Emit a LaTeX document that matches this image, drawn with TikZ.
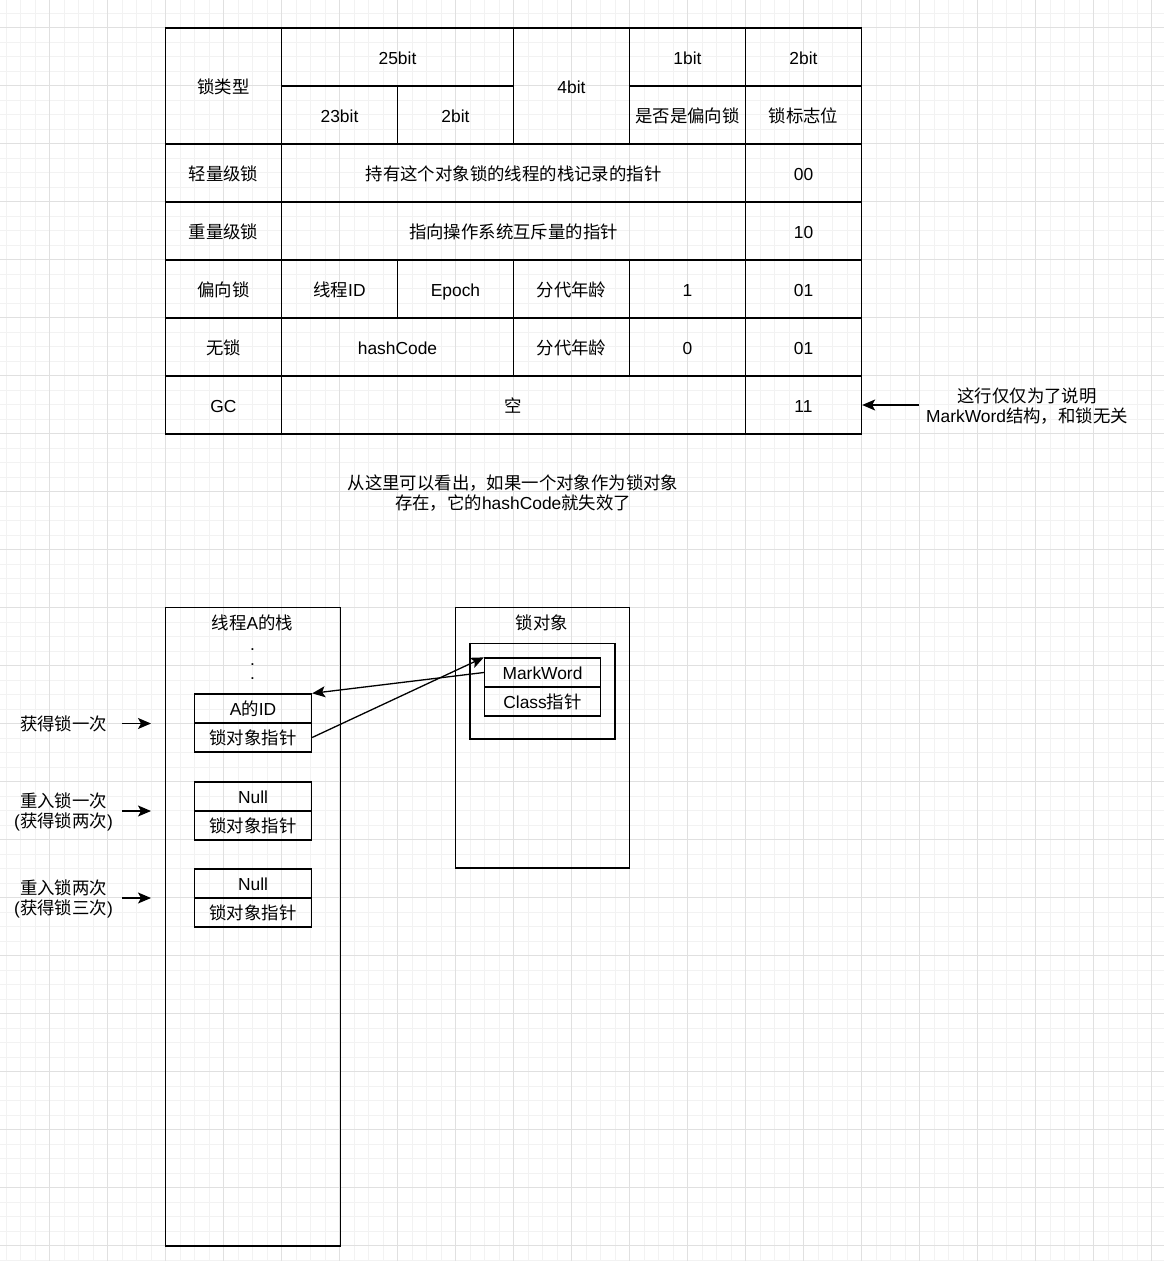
\documentclass[tikz,border=0pt]{standalone}
\usepackage{fontspec}
\setmainfont{Liberation Sans}
\newfontfamily\cjkf{Noto Sans CJK SC}
\newcommand\zh[1]{{\cjkf #1}}
\newcommand\fs{\fontsize{17.4}{20.3}\selectfont}
\usetikzlibrary{arrows.meta}
\definecolor{gridminor}{RGB}{242,242,242}
\definecolor{gridmajor}{RGB}{224,224,224}
\tikzset{
  box/.style={draw=black, line width=1.3pt, inner sep=0pt},
  one/.style={text height=16pt, text depth=2pt},
  cell/.style={box, align=center, font=\fs, one},
  txt/.style={align=center, font=\fs, inner sep=0pt},
  arr/.style={line width=1.3pt, -{Stealth[length=13pt,width=11pt,inset=3pt]}},
  minor/.style={draw=gridminor, line width=0.8pt},
  major/.style={draw=gridmajor, line width=0.8pt},
}
\newcommand\cellat[5]{\node[cell, minimum width=#3pt, minimum height=#4pt] (#1) at (#2) {#5};}
\begin{document}
\begin{tikzpicture}[x=1pt,y=-1pt]
\useasboundingbox (0,0) rectangle (1164,1261);
\fill[white] (0,0) rectangle (1164,1261);
% grid
\foreach \i in {0,...,80} \draw[minor] ({6+14.5*\i},0) -- ({6+14.5*\i},1261);
\foreach \i in {0,...,86} \draw[minor] (0,{13+14.5*\i}) -- (1164,{13+14.5*\i});
\foreach \i in {1,...,20} \draw[major] ({-8.5+58*\i},0) -- ({-8.5+58*\i},1261);
\foreach \i in {0,...,21} \draw[major] (0,{27.5+58*\i}) -- (1164,{27.5+58*\i});

% table header
\cellat{lt}{223.5,86}{116}{116}{\zh{锁类型}}
\cellat{b25}{397.5,57}{232}{58}{25bit}
\cellat{b23}{339.5,115}{116}{58}{23bit}
\cellat{b2}{455.5,115}{116}{58}{2bit}
\cellat{b4}{571.5,86}{116}{116}{4bit}
\cellat{b1}{687.5,57}{116}{58}{1bit}
\cellat{bias}{687.5,115}{116}{58}{\zh{是否是偏向锁}}
\cellat{b2f}{803.5,57}{116}{58}{2bit}
\cellat{flag}{803.5,115}{116}{58}{\zh{锁标志位}}
% light
\cellat{ln}{223.5,173}{116}{58}{\zh{轻量级锁}}
\cellat{lc}{513.5,173}{464}{58}{\zh{持有这个对象锁的线程的栈记录的指针}}
\cellat{lf}{803.5,173}{116}{58}{00}
% heavy
\cellat{hn}{223.5,231}{116}{58}{\zh{重量级锁}}
\cellat{hc}{513.5,231}{464}{58}{\zh{指向操作系统互斥量的指针}}
\cellat{hf}{803.5,231}{116}{58}{10}
% biased
\cellat{bn}{223.5,289}{116}{58}{\zh{偏向锁}}
\cellat{btid}{339.5,289}{116}{58}{\zh{线程}ID}
\cellat{bep}{455.5,289}{116}{58}{Epoch}
\cellat{bage}{571.5,289}{116}{58}{\zh{分代年龄}}
\cellat{bb}{687.5,289}{116}{58}{1}
\cellat{bf}{803.5,289}{116}{58}{01}
% no lock
\cellat{nn}{223.5,347}{116}{58}{\zh{无锁}}
\cellat{nh}{397.5,347}{232}{58}{hashCode}
\cellat{nage}{571.5,347}{116}{58}{\zh{分代年龄}}
\cellat{nb}{687.5,347}{116}{58}{0}
\cellat{nf}{803.5,347}{116}{58}{01}
% GC
\cellat{gn}{223.5,405}{116}{58}{GC}
\cellat{gc}{513.5,405}{464}{58}{\zh{空}}
\cellat{gf}{803.5,405}{116}{58}{11}

% note right
\node[txt] (note) at (1027,406) {\zh{这行仅仅为了说明}\\MarkWord\zh{结构，和锁无关}};
\coordinate (notes) at (919,405);
\draw[arr] (notes) -- (gf.east);

% center note
\node[txt] (mid) at (513,493) {\zh{从这里可以看出，如果一个对象作为锁对象}\\\zh{存在，它的}hashCode\zh{就失效了}};

% stack
\node[box, minimum width=175pt, minimum height=638.5pt] (stack) at (253,926.75) {};
\node[txt, one] (stitle) at (252.5,622) {\zh{线程}A\zh{的栈}};
\node[txt, font=\fontsize{17.4}{14.5}\selectfont] (dots) at (252.5,664.5) {.\\.\\.};
\cellat{aid}{253,708.5}{117}{29}{A\zh{的}ID}
\cellat{p1}{253,737.5}{117}{29}{\zh{锁对象指针}}
\cellat{n2}{253,796.5}{117}{29}{Null}
\cellat{p2}{253,825.5}{117}{29}{\zh{锁对象指针}}
\cellat{n3}{253,883.5}{117}{29}{Null}
\cellat{p3}{253,912.5}{117}{29}{\zh{锁对象指针}}

% lock object
\node[box, minimum width=174pt, minimum height=260.5pt] (lobj) at (542.5,737.75) {};
\node[txt, one] (ltitle) at (542,622) {\zh{锁对象}};
\node[box, minimum width=145pt, minimum height=95.5pt] (inner) at (542.5,691.25) {};
\cellat{mw}{542.5,672.5}{116}{29}{MarkWord}
\cellat{cp}{542.5,701.5}{116}{29}{Class\zh{指针}}

\draw[arr] (mw.west) -- (aid.north east);
\draw[arr] (p1.east) -- (mw.north west);

% left labels
\node[txt, one] (l1) at (63.5,723.5) {\zh{获得锁一次}};
\coordinate (l1s) at (122,723.5);
\coordinate (l1e) at (151,723.5);
\draw[arr] (l1s) -- (l1e);
\node[txt] (l2) at (63.5,812) {\zh{重入锁一次}\\(\zh{获得锁两次})};
\coordinate (l2s) at (122,811);
\coordinate (l2e) at (151,811);
\draw[arr] (l2s) -- (l2e);
\node[txt] (l3) at (63.5,899) {\zh{重入锁两次}\\(\zh{获得锁三次})};
\coordinate (l3s) at (122,898);
\coordinate (l3e) at (151,898);
\draw[arr] (l3s) -- (l3e);
\end{tikzpicture}
\end{document}
